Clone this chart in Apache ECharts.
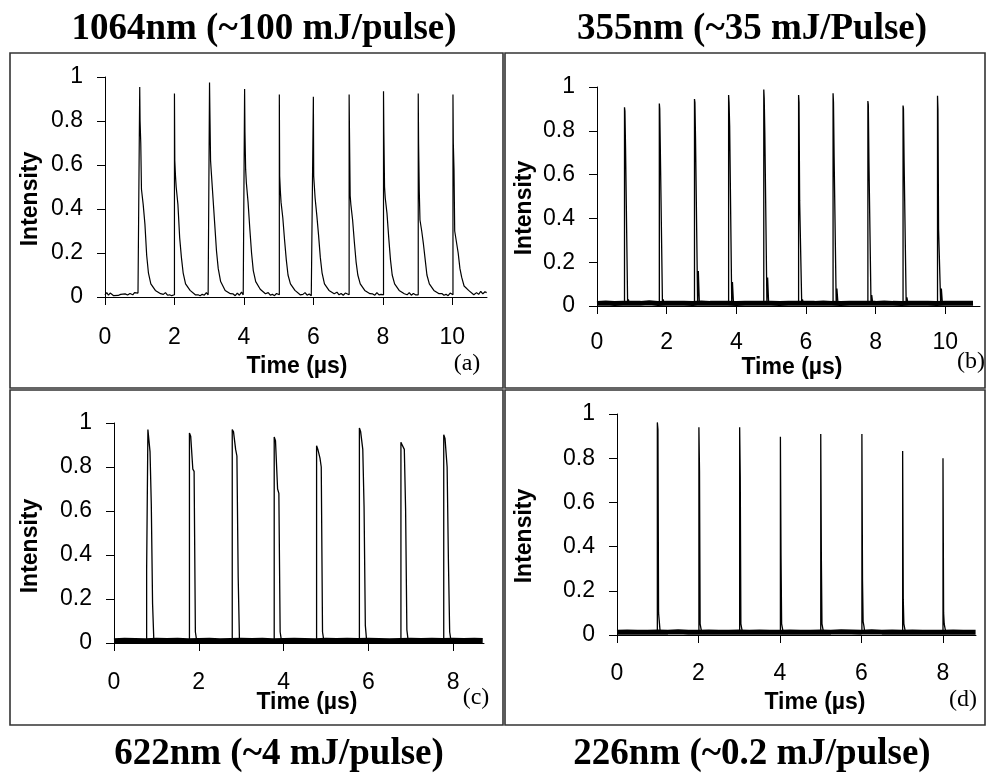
<!DOCTYPE html>
<html><head><meta charset="utf-8">
<script src="https://cdn.jsdelivr.net/npm/echarts@6/dist/echarts.min.js"></script>
<style>html,body{margin:0;padding:0;background:#fff}#c{width:986px;height:774px}</style>
</head><body><div id="c"></div>
<script>
// ---------- tick labels ----------
const xTicksAB = [0, 2, 4, 6, 8, 10];
const xTicksCD = [0, 2, 4, 6, 8];
const yTicks = [0, 0.2, 0.4, 0.6, 0.8, 1];

const titles = ['1064nm (~100 mJ/pulse)', '355nm (~35 mJ/Pulse)', '622nm (~4 mJ/pulse)', '226nm (~0.2 mJ/pulse)'];
const panelTags = ['(a)', '(b)', '(c)', '(d)'];
const xName = 'Time (\u00b5s)';
const yName = 'Intensity';

// ---------- panel (a) 1064 nm ----------
const aLead = [[0,0.01],[0.05,0.02],[0.1,0.008],[0.15,0.018],[0.2,0.012],[0.25,0.006],[0.3,0.01],[0.38,0.007],[0.45,0.012],[0.5,0.008],[0.58,0.014],[0.65,0.009],[0.72,0.016],[0.8,0.01],[0.85,0.02],[0.9,0.012],[0.95,0.018]];
const aStarts = [1.0, 2.0, 3.01, 4.02, 5.02, 6.0, 7.03, 8.02, 9.02, 10.02];
const aOffsets = [0, 0.01, 0.03, 0.05, 0.1, 0.15, 0.2, 0.25, 0.32, 0.45, 0.6];
const aPulses = [
  [0.955, 0.80, 0.70, 0.49, 0.42, 0.33, 0.19, 0.11, 0.06, 0.03, 0.015],
  [0.925, 0.62, 0.55, 0.50, 0.42, 0.27, 0.18, 0.11, 0.06, 0.03, 0.010],
  [0.975, 0.85, 0.62, 0.57, 0.45, 0.33, 0.21, 0.13, 0.07, 0.03, 0.015],
  [0.945, 0.75, 0.58, 0.52, 0.43, 0.31, 0.20, 0.12, 0.07, 0.035, 0.015],
  [0.920, 0.55, 0.48, 0.43, 0.36, 0.26, 0.17, 0.10, 0.06, 0.03, 0.010],
  [0.910, 0.55, 0.50, 0.45, 0.37, 0.28, 0.18, 0.11, 0.06, 0.03, 0.015],
  [0.920, 0.75, 0.46, 0.42, 0.35, 0.25, 0.16, 0.10, 0.06, 0.03, 0.015],
  [0.935, 0.75, 0.50, 0.45, 0.38, 0.27, 0.17, 0.10, 0.06, 0.03, 0.015],
  [0.925, 0.70, 0.48, 0.35, 0.30, 0.24, 0.17, 0.10, 0.06, 0.03, 0.015],
  [0.920, 0.70, 0.58, 0.30, 0.25, 0.20, 0.13, 0.09, 0.05, 0.03, 0.010]
];
const aNoiseOffsets = [0.68, 0.74, 0.8, 0.86, 0.92, 0.97];
const aNoise = [
  [0.012,0.02,0.008,0.01,0.006,0.009],
  [0.01,0.006,0.012,0.008,0.02,0.01],
  [0.014,0.006,0.018,0.008,0.022,0.01],
  [0.02,0.008,0.012,0.006,0.016,0.012],
  [0.012,0.02,0.008,0.014,0.006,0.01],
  [0.022,0.01,0.016,0.008,0.018,0.012],
  [0.014,0.008,0.02,0.01,0.012,0.018],
  [0.01,0.02,0.008,0.016,0.01,0.014],
  [0.016,0.008,0.012,0.006,0.018,0.01],
  [0.02,0.012,0.026,0.014,0.024,0.02]
];

// ---------- panel (b) 355 nm ----------
const bStarts = [0.79, 1.79, 2.8, 3.78, 4.79, 5.79, 6.78, 7.78, 8.79, 9.78];
const bOffsets = [0, 0.012, 0.03, 0.09, 0.11, 0.14];
const bPulses = [
  [0.907, 0.89, 0.72, 0.01, 0.03, 0.012],
  [0.925, 0.90, 0.70, 0.01, 0.03, 0.012],
  [0.945, 0.93, 0.76, 0.01, 0.16, 0.012],
  [0.963, 0.93, 0.82, 0.01, 0.11, 0.012],
  [0.989, 0.95, 0.79, 0.01, 0.13, 0.012],
  [0.963, 0.93, 0.48, 0.01, 0.03, 0.012],
  [0.971, 0.93, 0.68, 0.01, 0.08, 0.012],
  [0.936, 0.92, 0.66, 0.01, 0.05, 0.012],
  [0.915, 0.90, 0.66, 0.01, 0.04, 0.012],
  [0.960, 0.90, 0.35, 0.01, 0.08, 0.012]
];
const bBase = [[0,0.012],[0.25,0.014],[0.5,0.011],[0.75,0.012],[1.0,0.013],[1.25,0.012],[1.5,0.015],[1.75,0.011],[2.0,0.012],[2.25,0.013],[2.5,0.012],[2.75,0.011],[3.0,0.014],[3.25,0.012],[3.5,0.013],[3.75,0.012],[4.0,0.011],[4.25,0.013],[4.5,0.012],[4.75,0.012],[5.0,0.013],[5.25,0.011],[5.5,0.012],[5.75,0.013],[6.0,0.012],[6.25,0.012],[6.5,0.014],[6.75,0.012],[7.0,0.011],[7.25,0.012],[7.5,0.013],[7.75,0.012],[8.0,0.012],[8.25,0.014],[8.5,0.012],[8.75,0.011],[9.0,0.013],[9.25,0.012],[9.5,0.012],[9.75,0.011],[10.0,0.013],[10.25,0.012],[10.5,0.012],[10.8,0.013]];

// ---------- panel (c) 622 nm ----------
const cStarts = [0.77, 1.78, 2.79, 3.78, 4.78, 5.79, 6.77, 7.78];
const cOffsets = [0, 0.03, 0.08, 0.11, 0.14, 0.17];
const cPulses = [
  [0.33, 0.97, 0.87, 0.63, 0.18, 0.012],
  [0.954, 0.94, 0.79, 0.78, 0.05, 0.012],
  [0.97, 0.96, 0.88, 0.85, 0.30, 0.012],
  [0.936, 0.92, 0.70, 0.68, 0.05, 0.012],
  [0.897, 0.88, 0.84, 0.80, 0.05, 0.012],
  [0.977, 0.96, 0.88, 0.62, 0.08, 0.012],
  [0.912, 0.90, 0.88, 0.61, 0.06, 0.012],
  [0.947, 0.93, 0.80, 0.38, 0.05, 0.012]
];
const cBase = [[0,0.01],[0.25,0.012],[0.5,0.011],[0.75,0.01],[1.0,0.012],[1.25,0.011],[1.5,0.013],[1.75,0.01],[2.0,0.011],[2.25,0.012],[2.5,0.01],[2.75,0.011],[3.0,0.012],[3.25,0.011],[3.5,0.012],[3.75,0.01],[4.0,0.011],[4.25,0.012],[4.5,0.011],[4.75,0.01],[5.0,0.012],[5.25,0.011],[5.5,0.012],[5.75,0.011],[6.0,0.012],[6.25,0.011],[6.5,0.01],[6.75,0.011],[7.0,0.012],[7.25,0.011],[7.5,0.012],[7.75,0.011],[8.0,0.012],[8.25,0.011],[8.5,0.012],[8.7,0.011]];

// ---------- panel (d) 226 nm ----------
const dStarts = [0.99, 2.01, 3.01, 4.01, 5.0, 6.01, 7.01, 8.0];
const dOffsets = [0, 0.015, 0.03, 0.05, 0.07];
const dPulses = [
  [0.962, 0.93, 0.10, 0.10, 0.012],
  [0.94, 0.74, 0.05, 0.03, 0.012],
  [0.94, 0.71, 0.05, 0.03, 0.012],
  [0.897, 0.36, 0.05, 0.03, 0.012],
  [0.91, 0.35, 0.05, 0.03, 0.012],
  [0.91, 0.25, 0.06, 0.04, 0.012],
  [0.833, 0.16, 0.05, 0.03, 0.012],
  [0.80, 0.10, 0.05, 0.03, 0.012]
];
const dBase = [[0,0.013],[0.25,0.014],[0.5,0.012],[0.75,0.013],[1.0,0.014],[1.25,0.013],[1.5,0.015],[1.75,0.012],[2.0,0.013],[2.25,0.014],[2.5,0.013],[2.75,0.012],[3.0,0.014],[3.25,0.013],[3.5,0.014],[3.75,0.013],[4.0,0.012],[4.25,0.014],[4.5,0.013],[4.75,0.013],[5.0,0.014],[5.25,0.013],[5.5,0.015],[5.75,0.014],[6.0,0.013],[6.25,0.015],[6.5,0.013],[6.75,0.014],[7.0,0.013],[7.25,0.014],[7.5,0.013],[7.75,0.012],[8.0,0.013],[8.25,0.014],[8.5,0.013],[8.8,0.013]];

// ---------- build ----------
function pulsePoints(t0, offsets, vals) {
  const pts = [[t0, 0.01]];
  offsets.forEach((o, j) => pts.push([t0 + o, vals[j]]));
  return pts;
}
function buildA() {
  const pts = aLead.slice();
  aStarts.forEach((t0, i) => {
    pulsePoints(t0, aOffsets, aPulses[i]).forEach(p => pts.push(p));
    aNoiseOffsets.forEach((o, j) => pts.push([t0 + o, aNoise[i][j]]));
  });
  return pts;
}

const FONT = 'Liberation Sans';
const grids = [
  {left: 105, top: 77, width: 382, height: 220},
  {left: 597, top: 87, width: 383, height: 219},
  {left: 114, top: 423, width: 370, height: 220},
  {left: 617, top: 414, width: 359, height: 221}
];
const xMax = [11, 11, 8.73, 8.81];
const xTickSets = [xTicksAB, xTicksAB, xTicksCD, xTicksCD];
const xMargins = [29, 25, 28, 27];

const xAxes = grids.map((g, i) => ({
  type: 'value', gridIndex: i, min: 0, max: xMax[i], interval: 2,
  axisLine: {show: true, onZero: true, lineStyle: {color: '#000', width: 1}},
  axisTick: {show: true, length: 8, customValues: xTickSets[i], lineStyle: {color: '#000', width: 1}},
  axisLabel: {customValues: xTickSets[i], fontSize: 23, color: '#000', fontFamily: FONT, margin: xMargins[i]},
  splitLine: {show: false}
}));
const yAxes = grids.map((g, i) => ({
  type: 'value', gridIndex: i, min: 0, max: 1, interval: 0.2,
  axisLine: {show: true, lineStyle: {color: '#000', width: 1}},
  axisTick: {show: true, length: 8, customValues: yTicks, lineStyle: {color: '#000', width: 1}},
  axisLabel: {customValues: yTicks, fontSize: 23, color: '#000', fontFamily: FONT, margin: 22},
  splitLine: {show: false}
}));

const lineBase = {type: 'line', showSymbol: false, symbol: 'none', animation: false, silent: true, z: 3};
const series = [];
series.push(Object.assign({}, lineBase, {xAxisIndex: 0, yAxisIndex: 0, data: buildA(), lineStyle: {color: '#000', width: 1.2}}));

[[bBase, bStarts, bOffsets, bPulses, 1], [cBase, cStarts, cOffsets, cPulses, 2], [dBase, dStarts, dOffsets, dPulses, 3]].forEach(([base, starts, offs, pulses, idx]) => {
  series.push(Object.assign({}, lineBase, {xAxisIndex: idx, yAxisIndex: idx, data: base, lineStyle: {color: '#000', width: 5}}));
  starts.forEach((t0, i) => {
    series.push(Object.assign({}, lineBase, {xAxisIndex: idx, yAxisIndex: idx, data: pulsePoints(t0, offs, pulses[i]), lineStyle: {color: '#000', width: 1.3}}));
  });
});

// ---------- decorations ----------
const boxes = [[10, 53, 493, 335], [505, 53, 480, 335], [10, 390, 493, 335], [505, 390, 480, 335]];
const titlePos = [[264, 29], [752, 29], [279, 754], [752, 754]];
const xNamePos = [[297, 367], [792, 368], [307, 703], [815, 703]];
const yNamePos = [[31, 199], [525, 208], [31, 546], [525, 536]];
const tagPos = [[467, 364], [971, 362], [476, 698], [963, 700]];

const graphic = [];
boxes.forEach(b => graphic.push({type: 'rect', shape: {x: b[0], y: b[1], width: b[2], height: b[3]}, style: {fill: 'none', stroke: '#333', lineWidth: 1.6}, silent: true}));
titles.forEach((t, i) => graphic.push({type: 'text', x: titlePos[i][0], y: titlePos[i][1], style: {text: t, fontFamily: 'Liberation Serif', fontWeight: 'bold', fontSize: 37, fill: '#000', textAlign: 'center', textVerticalAlign: 'middle'}}));
xNamePos.forEach(p => graphic.push({type: 'text', x: p[0], y: p[1], style: {text: xName, fontFamily: FONT, fontWeight: 'bold', fontSize: 23, fill: '#000', textAlign: 'center', textVerticalAlign: 'middle'}}));
yNamePos.forEach(p => graphic.push({type: 'text', x: p[0], y: p[1], rotation: Math.PI / 2, style: {text: yName, fontFamily: FONT, fontWeight: 'bold', fontSize: 23, fill: '#000', textAlign: 'center', textVerticalAlign: 'middle'}}));
panelTags.forEach((t, i) => graphic.push({type: 'text', x: tagPos[i][0], y: tagPos[i][1], style: {text: t, fontFamily: 'Liberation Serif', fontSize: 24, fill: '#000', textAlign: 'center', textVerticalAlign: 'middle'}}));

const chart = echarts.init(document.getElementById('c'), null, {renderer: 'canvas'});
chart.setOption({
  animation: false,
  backgroundColor: '#fff',
  grid: grids,
  xAxis: xAxes,
  yAxis: yAxes,
  series: series,
  graphic: graphic
});
</script>
</body></html>
